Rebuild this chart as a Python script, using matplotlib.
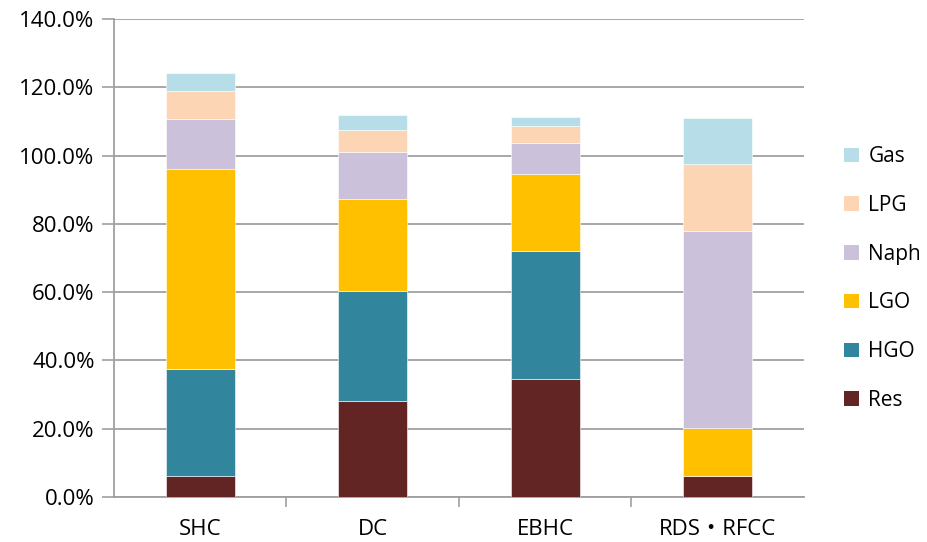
import matplotlib
matplotlib.use("Agg")
import matplotlib.pyplot as plt
import numpy as np
from matplotlib.patches import Patch
from matplotlib.ticker import FuncFormatter, FixedLocator

plt.rcParams['font.family'] = ['Open Sans', 'Noto Sans CJK JP', 'DejaVu Sans']

categories = ["SHC", "DC", "EBHC", "RDS・RFCC"]
res = [6.2, 28.2, 34.6, 6.1]
hgo = [31.2, 32.2, 37.5, 0.0]
lgo = [58.6, 26.8, 22.5, 14.2]
naph = [14.6, 13.8, 9.1, 57.7]
lpg = [8.3, 6.4, 5.0, 19.4]
gas = [5.4, 4.5, 2.5, 13.6]

series = [
    ("Res", res, "#632523"),
    ("HGO", hgo, "#31859C"),
    ("LGO", lgo, "#FFC000"),
    ("Naph", naph, "#CCC1DA"),
    ("LPG", lpg, "#FCD5B5"),
    ("Gas", gas, "#B7DEE8"),
]

fig = plt.figure(figsize=(9.27, 5.42), dpi=100)
ax = fig.add_axes([0.123, 0.083, 0.744, 0.882])

x = np.arange(len(categories))
bottom = np.zeros(len(categories))
for name, vals, color in series:
    v = np.array(vals)
    ax.bar(x, v, width=0.4, bottom=bottom, color=color,
           edgecolor="white", linewidth=0.4, zorder=3, label=name)
    bottom += v

ax.set_xlim(-0.5, len(categories) - 0.5)
ax.set_ylim(0, 140)
ax.set_yticks(np.arange(0, 141, 20))
ax.yaxis.set_major_formatter(FuncFormatter(lambda v, p: f"{v:.1f}%"))
ax.yaxis.grid(True, color="#A0A0A0", linewidth=1.3, zorder=0)

ax.set_xticks(x)
ax.set_xticklabels(categories)
ax.xaxis.set_minor_locator(FixedLocator(np.arange(0.5, len(categories) - 0.5, 1)))
ax.tick_params(axis="x", which="major", length=0, pad=16, labelsize=16)
ax.tick_params(axis="x", which="minor", length=7, width=1.2, color="#A0A0A0")
ax.tick_params(axis="y", length=9, width=1.2, color="#A0A0A0", labelsize=16, pad=5)

for s in ["top", "right"]:
    ax.spines[s].set_visible(False)
for s in ["left", "bottom"]:
    ax.spines[s].set_color("#A0A0A0")
    ax.spines[s].set_linewidth(1.3)

handles = [Patch(facecolor=c, edgecolor="none", label=n) for n, _, c in reversed(series)]
fig.legend(handles=handles, loc="center left", bbox_to_anchor=(0.911, 0.486),
           frameon=False, fontsize=15, handlelength=0.7, handleheight=0.7,
           handletextpad=0.45, labelspacing=1.33, borderaxespad=0, borderpad=0)

fig.savefig("out.png", dpi=100, facecolor="white")
